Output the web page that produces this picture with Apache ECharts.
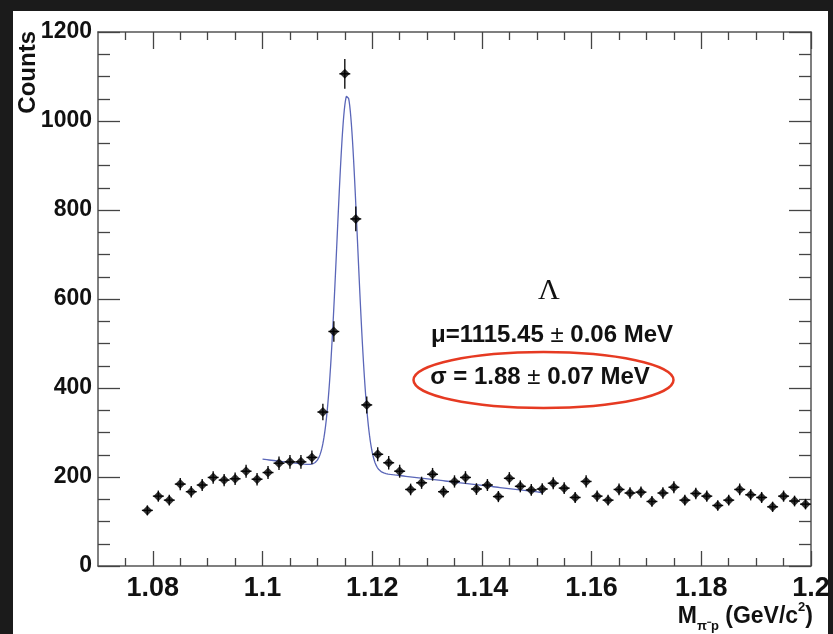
<!DOCTYPE html>
<html>
<head>
<meta charset="utf-8">
<script src="https://cdn.jsdelivr.net/npm/echarts@6/dist/echarts.min.js"></script>
<style>
html,body{margin:0;padding:0;background:#1b1b1b;}
#chart{width:833px;height:634px;}
</style>
</head>
<body>
<div id="chart"></div>
<script>
// Bin centres (GeV/c^2) and counts
const massBins = [
  1.079,1.081,1.083,1.085,1.087,1.089,1.091,1.093,1.095,1.097,
  1.099,1.101,1.103,1.105,1.107,1.109,1.111,1.113,1.115,1.117,
  1.119,1.121,1.123,1.125,1.127,1.129,1.131,1.133,1.135,1.137,
  1.139,1.141,1.143,1.145,1.147,1.149,1.151,1.153,1.155,1.157,
  1.159,1.161,1.163,1.165,1.167,1.169,1.171,1.173,1.175,1.177,
  1.179,1.181,1.183,1.185,1.187,1.189,1.191,1.193,1.195,1.197,1.199
];
const counts = [
  125,157,148,184,167,182,199,193,196,213,
  195,210,231,234,234,244,346,527,1106,780,
  362,251,232,213,172,187,206,167,190,199,
  173,182,156,197,179,171,173,186,175,154,
  190,157,148,172,164,166,145,164,177,148,
  163,157,136,148,172,160,154,133,157,146,139
];
const binHalfWidth = 0.001;

// Fit: Gaussian + linear background (parameters)
const fitMu = 1.11545;
const fitSigma = 0.00188;
const fitAmp = 841;
const fitBg0 = 240;      // background at fitStart
const fitSlope = -1470;  // counts per GeV/c^2
const fitStart = 1.1;
const fitEnd = 1.1512;

// Axis ticks
const xMajorTicks = [1.08,1.10,1.12,1.14,1.16,1.18,1.20];
const xMinorTicks = [1.075,1.085,1.09,1.095,1.105,1.11,1.115,1.125,1.13,1.135,1.145,1.15,1.155,1.165,1.17,1.175,1.185,1.19,1.195];
const yTicks = [0,200,400,600,800,1000,1200];

const fitCurve = [];
for (let i = 0; i <= 512; i++) {
  const x = fitStart + (fitEnd - fitStart) * i / 512;
  const g = fitAmp * Math.exp(-0.5 * Math.pow((x - fitMu) / fitSigma, 2));
  fitCurve.push([x, g + fitBg0 + fitSlope * (x - fitStart)]);
}

const points = massBins.map((x, i) => [x, counts[i]]);

const frameColor = '#555';
const labelFont = {fontFamily: 'Liberation Sans, Arial, sans-serif', fontWeight: 'bold', color: '#111'};

const chart = echarts.init(document.getElementById('chart'), null, {renderer: 'canvas'});

function xAxisDef(pos, vals, len, showLine, showLabel) {
  return {
    type: 'value', min: 1.07, max: 1.2, position: pos,
    axisLine: {show: showLine, onZero: false, lineStyle: {color: frameColor, width: 1.5}},
    axisTick: {show: true, inside: true, length: len, customValues: vals, lineStyle: {color: '#444', width: 1.3}},
    axisLabel: showLabel ? Object.assign({show: true, customValues: vals, fontSize: 27, margin: 9,
      formatter: v => String(+(+v).toFixed(3))}, labelFont) : {show: false},
    splitLine: {show: false}
  };
}

function yAxisDef(pos, showLabel) {
  return {
    type: 'value', min: 0, max: 1200, position: pos,
    axisLine: {show: true, onZero: false, lineStyle: {color: frameColor, width: 1.5}},
    axisTick: {show: true, inside: true, length: 22, customValues: yTicks, lineStyle: {color: '#444', width: 1.3}},
    minorTick: {show: true, splitNumber: 4, length: 12, lineStyle: {color: '#444', width: 1.3}},
    interval: 200,
    axisLabel: showLabel ? Object.assign({show: true, customValues: yTicks, fontSize: 23, margin: 6,
      formatter: v => String(v)}, labelFont) : {show: false},
    splitLine: {show: false}
  };
}

chart.setOption({
  backgroundColor: '#1b1b1b',
  animation: false,
  grid: {left: 98, top: 32, width: 713, height: 534, containLabel: false},
  xAxis: [
    xAxisDef('bottom', xMajorTicks, 15, true, true),
    xAxisDef('bottom', xMinorTicks, 8, false, false),
    xAxisDef('top', xMajorTicks, 17, true, false),
    xAxisDef('top', xMinorTicks, 8, false, false)
  ],
  yAxis: [yAxisDef('left', true), yAxisDef('right', false)],
  graphic: [
    {type: 'rect', z: -10, shape: {x: 13, y: 11, width: 815, height: 630}, style: {fill: '#ffffff'}},
    {type: 'text', x: 28, y: 31, rotation: Math.PI / 2,
      style: {text: 'Counts', fontSize: 24, fontWeight: 'bold', fontFamily: 'Liberation Sans, Arial, sans-serif',
        fill: '#111', align: 'right', verticalAlign: 'middle'}},
    {type: 'text', x: 813, y: 617,
      style: {text: '{m|M}{sub|π⁻p}{n| (GeV/c}{sup|2}{n|)}', align: 'right', verticalAlign: 'middle',
        fill: '#111', fontFamily: 'Liberation Sans, Arial, sans-serif', fontWeight: 'bold',
        rich: {
          m: {fontSize: 23, fontWeight: 'bold', lineHeight: 32, verticalAlign: 'middle', fill: '#111'},
          n: {fontSize: 23, fontWeight: 'bold', lineHeight: 32, verticalAlign: 'middle', fill: '#111'},
          sub: {fontSize: 13, fontWeight: 'bold', lineHeight: 14, verticalAlign: 'bottom', fill: '#111'},
          sup: {fontSize: 13, fontWeight: 'bold', lineHeight: 20, verticalAlign: 'top', fill: '#111'}
        }}},
    {type: 'text', x: 549, y: 291,
      style: {text: 'Λ', fontSize: 30, fontFamily: 'Liberation Serif, Times New Roman, serif', fill: '#111',
        align: 'center', verticalAlign: 'middle'}},
    {type: 'text', x: 552, y: 335,
      style: {text: '{b|μ=1115.45}{p| ± }{b|0.06 MeV}', align: 'center', verticalAlign: 'middle',
        rich: {
          b: {fontSize: 24, fontWeight: 'bold', fontFamily: 'Liberation Sans, Arial, sans-serif', fill: '#111'},
          p: {fontSize: 24, fontWeight: 'normal', fontFamily: 'Liberation Sans, Arial, sans-serif', fill: '#111'}
        }}},
    {type: 'text', x: 540, y: 377,
      style: {text: '{b|σ = 1.88}{p| ± }{b|0.07 MeV}', align: 'center', verticalAlign: 'middle',
        rich: {
          b: {fontSize: 24, fontWeight: 'bold', fontFamily: 'Liberation Sans, Arial, sans-serif', fill: '#111'},
          p: {fontSize: 24, fontWeight: 'normal', fontFamily: 'Liberation Sans, Arial, sans-serif', fill: '#111'}
        }}},
    {type: 'ellipse', shape: {cx: 543.5, cy: 380, rx: 130, ry: 28},
      style: {fill: 'none', stroke: '#e63a22', lineWidth: 2.5}}
  ],
  series: [
    {
      type: 'line', xAxisIndex: 0, yAxisIndex: 0, data: fitCurve, showSymbol: false, smooth: false,
      lineStyle: {color: '#5a66b8', width: 1.3}, z: 2, silent: true
    },
    {
      type: 'custom', xAxisIndex: 0, yAxisIndex: 0, data: points, z: 3, silent: true,
      renderItem: function (params, api) {
        const x = api.value(0), y = api.value(1);
        const err = Math.sqrt(y);
        const top = api.coord([x, y + err]);
        const bot = api.coord([x, y - err]);
        const left = api.coord([x - binHalfWidth, y]);
        const right = api.coord([x + binHalfWidth, y]);
        const st = {stroke: '#111', lineWidth: 1.4};
        return {type: 'group', children: [
          {type: 'line', shape: {x1: top[0], y1: top[1], x2: bot[0], y2: bot[1]}, style: st},
          {type: 'line', shape: {x1: left[0], y1: left[1], x2: right[0], y2: right[1]}, style: st}
        ]};
      }
    },
    {
      type: 'scatter', xAxisIndex: 0, yAxisIndex: 0, data: points, symbol: 'diamond', symbolSize: 10,
      itemStyle: {color: '#000'}, z: 4, silent: true
    }
  ]
});
</script>
</body>
</html>
